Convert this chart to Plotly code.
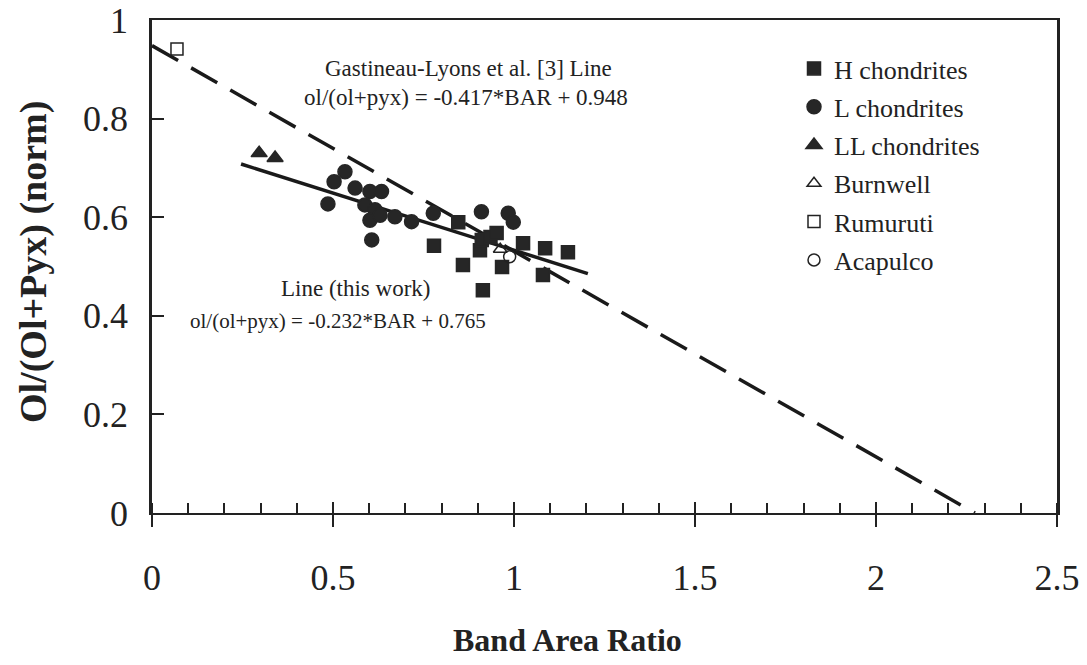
import plotly.graph_objects as go

# Band area ratio (BAR) vs normalised olivine fraction
h_bar = [0.779, 0.846, 0.859, 0.906, 0.911, 0.914, 0.935, 0.952, 0.967, 1.025, 1.086, 1.080, 1.149]
h_ol = [0.542, 0.590, 0.503, 0.533, 0.554, 0.452, 0.560, 0.568, 0.499, 0.547, 0.537, 0.483, 0.529]

l_bar = [0.486, 0.503, 0.533, 0.561, 0.602, 0.634, 0.588, 0.616, 0.602, 0.630, 0.671, 0.717,
         0.607, 0.777, 0.910, 0.984, 0.998]
l_ol = [0.627, 0.672, 0.692, 0.659, 0.652, 0.652, 0.625, 0.615, 0.594, 0.604, 0.601, 0.591,
        0.554, 0.608, 0.611, 0.608, 0.590]

ll_bar = [0.296, 0.340]
ll_ol = [0.730, 0.720]

burnwell_bar = [0.962]
burnwell_ol = [0.535]

rumuruti_bar = [0.069]
rumuruti_ol = [0.941]

acapulco_bar = [0.988]
acapulco_ol = [0.520]

# Regression lines: slope, intercept, BAR extent
gl_slope, gl_icpt = -0.417, 0.948
gl_range = [0.0, 0.948 / 0.417]
tw_slope, tw_icpt = -0.232, 0.765
tw_range = [0.246, 1.204]

x_ticks = [0, 0.5, 1, 1.5, 2, 2.5]
y_ticks = [0, 0.2, 0.4, 0.6, 0.8, 1]

FONT = "Liberation Serif, Times New Roman, serif"
MARK = "#262626"
INK = "#222"

fig = go.Figure()

fig.add_trace(go.Scatter(
    x=gl_range, y=[gl_slope * v + gl_icpt for v in gl_range], mode="lines",
    line=dict(color="#1a1a1a", width=3.5, dash="30px,15px"), showlegend=False, hoverinfo="skip"))
fig.add_trace(go.Scatter(
    x=tw_range, y=[tw_slope * v + tw_icpt for v in tw_range], mode="lines",
    line=dict(color="#1a1a1a", width=3.5), showlegend=False, hoverinfo="skip"))

series = [
    ("H chondrites", h_bar, h_ol, "square", 13),
    ("L chondrites", l_bar, l_ol, "circle", 14),
    ("LL chondrites", ll_bar, ll_ol, "triangle-up", 14),
    ("Burnwell", burnwell_bar, burnwell_ol, "triangle-up-open", 12),
    ("Rumuruti", rumuruti_bar, rumuruti_ol, "square-open", 12),
    ("Acapulco", acapulco_bar, acapulco_ol, "circle-open", 12),
]
for name, xs, ys, sym, size in series:
    fig.add_trace(go.Scatter(
        x=xs, y=ys, mode="markers", name=name, legendgroup=name,
        marker=dict(symbol=sym, size=size, color=INK if "open" in sym else MARK,
                    line=dict(color=INK if "open" in sym else MARK, width=1.5))))

# empty trace for the overlay axis carrying the inner halves of the major ticks
fig.add_trace(go.Scatter(x=[None], y=[None], xaxis="x2", showlegend=False, hoverinfo="skip"))

ann_font = dict(family=FONT, size=23, color=INK)
fig.add_annotation(x=0.873, y=0.901, text="Gastineau-Lyons et al. [3] Line",
                   showarrow=False, font=ann_font)
fig.add_annotation(x=0.867, y=0.842, text="ol/(ol+pyx) = -0.417*BAR + 0.948",
                   showarrow=False, font=ann_font)
fig.add_annotation(x=0.561, y=0.456, text="Line (this work)",
                   showarrow=False, font=ann_font)
fig.add_annotation(x=0.514, y=0.389, text="ol/(ol+pyx) = -0.232*BAR + 0.765",
                   showarrow=False, font=dict(family=FONT, size=21, color=INK))

# axis titles
fig.add_annotation(xref="paper", yref="paper", x=(567 - 152) / 905, y=(513 - 640) / 493,
                   xanchor="center", yanchor="middle",
                   text="<b>Band Area Ratio</b>", showarrow=False,
                   font=dict(family=FONT, size=32, color=INK))
fig.add_annotation(xref="paper", yref="paper", x=(33 - 152) / 905, y=(513 - 262) / 493,
                   xanchor="center", yanchor="middle",
                   text="<b>Ol/(Ol+Pyx) (norm)</b>", textangle=-90, showarrow=False,
                   font=dict(family=FONT, size=38, color=INK))

fig.update_layout(
    width=1087, height=665,
    margin=dict(l=152, r=30, t=20, b=152),
    paper_bgcolor="white", plot_bgcolor="white",
    font=dict(family=FONT, color=INK),
    showlegend=True,
    legend=dict(x=(794 - 152) / 905, y=(513 - 45) / 493, xanchor="left", yanchor="top",
                font=dict(family=FONT, size=26, color=INK),
                tracegroupgap=1.5, bgcolor="rgba(0,0,0,0)"),
    xaxis=dict(range=[0, 2.5], tickvals=x_ticks, ticktext=[f"{v:g}" for v in x_ticks],
               ticks="outside", ticklen=12, tickwidth=2, tickcolor=INK,
               minor=dict(dtick=0.1, ticks="inside", ticklen=10, tickwidth=1.5, tickcolor=INK),
               showline=True, linecolor=INK, linewidth=2, mirror=True,
               showgrid=False, zeroline=False, automargin=False,
               tickfont=dict(family=FONT, size=36, color=INK), ticklabelstandoff=20),
    xaxis2=dict(range=[0, 2.5], overlaying="x", anchor="y", side="bottom",
                tickvals=x_ticks, showticklabels=False, ticks="inside", ticklen=11,
                tickwidth=2, tickcolor=INK, showline=False, showgrid=False, zeroline=False,
                automargin=False),
    yaxis=dict(range=[0, 1], tickvals=y_ticks, ticktext=[f"{v:g}" for v in y_ticks],
               ticks="inside", ticklen=12, tickwidth=2, tickcolor=INK,
               showline=True, linecolor=INK, linewidth=2.5, mirror=True,
               showgrid=False, zeroline=False, automargin=False,
               tickfont=dict(family=FONT, size=36, color=INK), ticklabelstandoff=14),
)

fig.write_html("out.html")
